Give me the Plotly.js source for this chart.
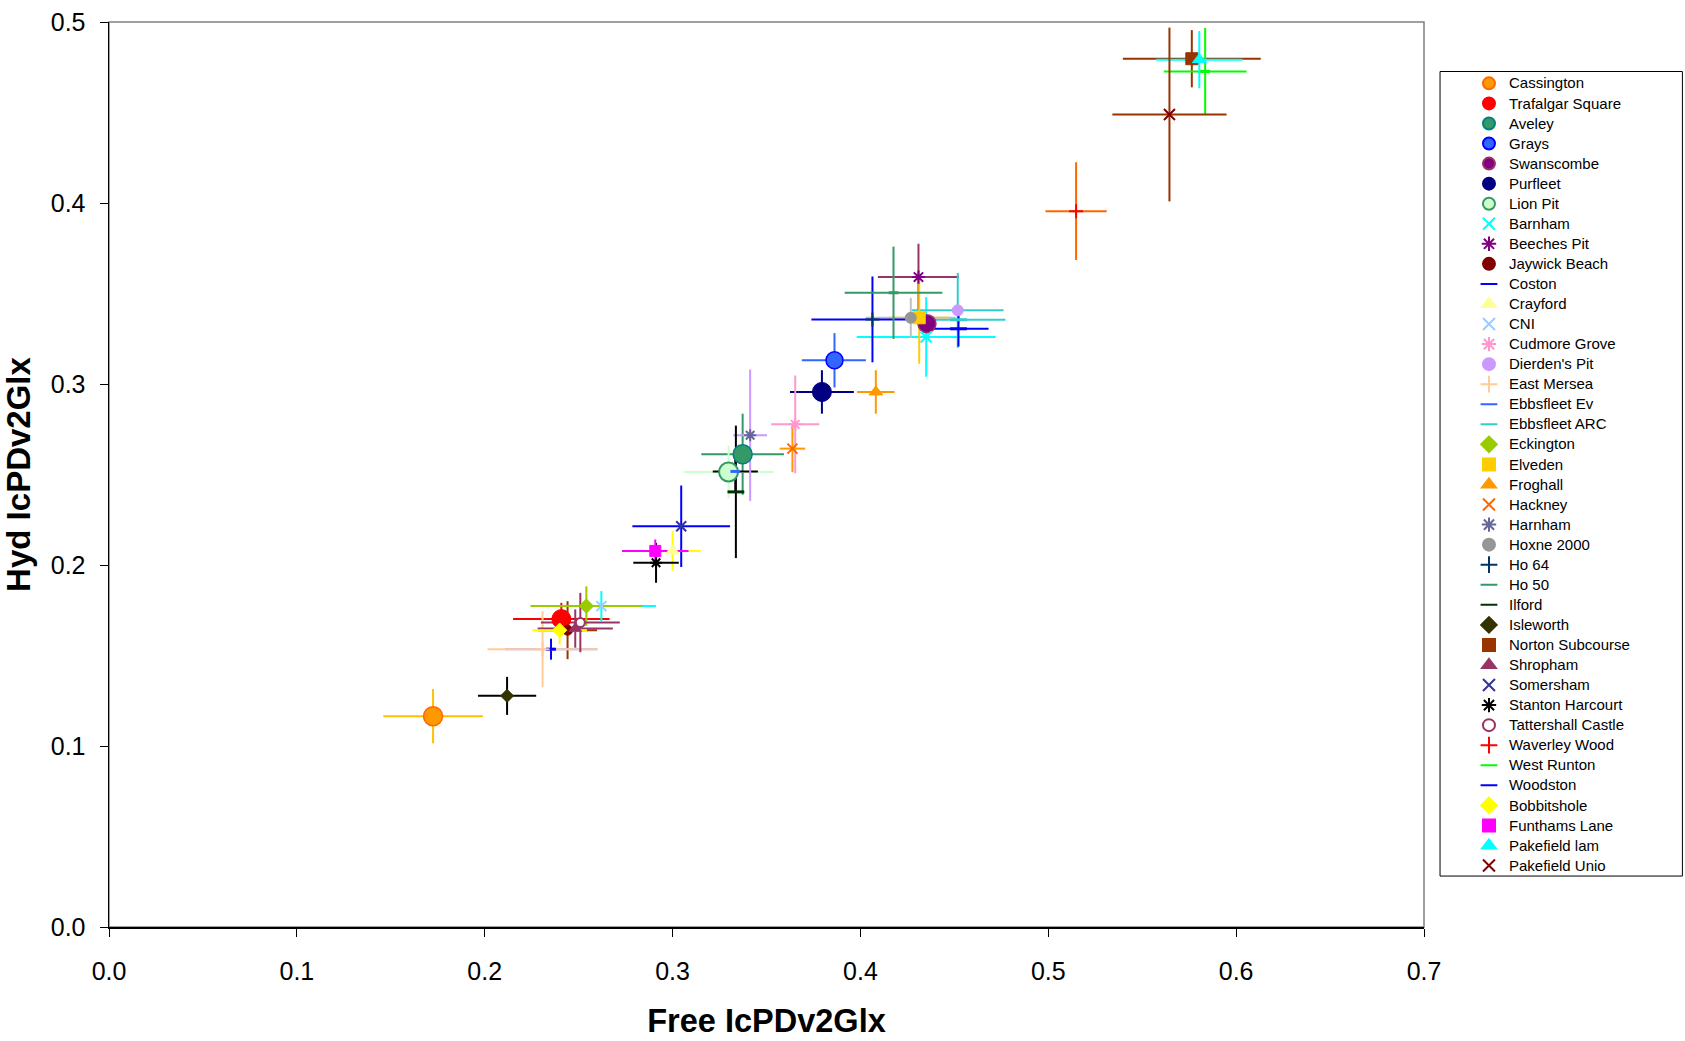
<!DOCTYPE html>
<html>
<head>
<meta charset="utf-8">
<script src="https://cdn.plot.ly/plotly-3.0.1.min.js"></script>
<style>
  html, body { margin: 0; padding: 0; background: #ffffff; }
  #chart { width: 1685px; height: 1041px; }
</style>
</head>
<body>
<div id="chart"></div>
<script>
// ---- data ----
const siteNames = ["Cassington","Trafalgar Square","Aveley","Grays","Swanscombe","Purfleet","Lion Pit","Barnham","Beeches Pit","Jaywick Beach","Coston","Crayford","CNI","Cudmore Grove","Dierden's Pit","East Mersea","Ebbsfleet Ev","Ebbsfleet ARC","Eckington","Elveden","Froghall","Hackney","Harnham","Hoxne 2000","Ho 64","Ho 50","Ilford","Isleworth","Norton Subcourse","Shropham","Somersham","Stanton Harcourt","Tattershall Castle","Waverley Wood","West Runton","Woodston","Bobbitshole","Funthams Lane","Pakefield lam","Pakefield Unio"];

const freeVals = [0.1725,0.2408,0.3373,0.3862,0.4354,0.3795,0.3298,0.4350,0.4309,0.2441,0.2353,0.3000,0.2621,0.3653,0.4518,0.2308,0.3334,0.4522,0.2541,0.4313,0.4082,0.3638,0.3413,0.4268,0.4064,0.4176,0.3337,0.2119,0.5764,0.2482,0.3046,0.2912,0.2509,0.5148,0.5835,0.4522,0.2399,0.2908,0.5804,0.5645];
const hydVals  = [0.1165,0.1701,0.2612,0.3131,0.3333,0.2956,0.2514,0.3260,0.3591,0.1640,0.1535,0.2078,0.1773,0.2777,0.3407,0.1535,0.2517,0.3355,0.1773,0.3366,0.2956,0.2643,0.2717,0.3366,0.3357,0.3504,0.2404,0.1277,0.4797,0.1649,0.2214,0.2012,0.1682,0.3955,0.4727,0.3305,0.1640,0.2078,0.4792,0.4489];

const freeErrPlus  = [0.0265,0.0257,0.0220,0.0167,0.0040,0.0170,0.0240,0.0370,0.0216,0.0157,0.0246,0.0150,0.0290,0.0128,0.0244,0.0293,0.0120,0.0250,0.0297,0.0165,0.0100,0.0068,0.0090,0.0240,0.0180,0.0260,0.0000,0.0155,0.0367,0.0200,0.0260,0.0121,0.0210,0.0163,0.0220,0.0160,0.0145,0.0177,0.0230,0.0304];
const freeErrMinus = [0.0265,0.0257,0.0220,0.0174,0.0040,0.0170,0.0240,0.0370,0.0216,0.0157,0.0246,0.0150,0.0290,0.0128,0.0244,0.0293,0.0120,0.0250,0.0297,0.0165,0.0100,0.0068,0.0090,0.0240,0.0325,0.0260,0.0000,0.0155,0.0367,0.0200,0.0260,0.0121,0.0210,0.0163,0.0220,0.0160,0.0145,0.0177,0.0230,0.0304];
const hydErrPlus   = [0.0150,0.0090,0.0224,0.0150,0.0040,0.0120,0.0145,0.0220,0.0184,0.0160,0.0058,0.0109,0.0083,0.0270,0.0207,0.0210,0.0110,0.0020,0.0109,0.0206,0.0120,0.0130,0.0363,0.0110,0.0237,0.0255,0.0366,0.0105,0.0158,0.0106,0.0225,0.0110,0.0164,0.0270,0.0240,0.0098,0.0078,0.0063,0.0158,0.0480];
const hydErrMinus  = [0.0150,0.0090,0.0224,0.0150,0.0040,0.0120,0.0145,0.0220,0.0184,0.0160,0.0058,0.0109,0.0083,0.0270,0.0207,0.0210,0.0110,0.0020,0.0109,0.0254,0.0120,0.0130,0.0363,0.0110,0.0237,0.0255,0.0366,0.0105,0.0158,0.0106,0.0225,0.0110,0.0164,0.0270,0.0240,0.0098,0.0078,0.0063,0.0158,0.0480];

const xTickVals = [0,0.1,0.2,0.3,0.4,0.5,0.6,0.7];
const xTickText = ["0.0","0.1","0.2","0.3","0.4","0.5","0.6","0.7"];
const yTickVals = [0,0.1,0.2,0.3,0.4,0.5];
const yTickText = ["0.0","0.1","0.2","0.3","0.4","0.5"];

// ---- styles (marker symbol, size, fill, outline, error-bar colours) ----
const styles = {
  "Cassington":        {s:"circle", z:19, c:"#FF9900", l:"#FF6600", lw:1.5, e:"#FFC000"},
  "Trafalgar Square":  {s:"circle", z:19, c:"#FF0000", l:"#FF0000", lw:1, e:"#FF0000"},
  "Aveley":            {s:"circle", z:19, c:"#339966", l:"#008080", lw:1.5, e:"#339966"},
  "Grays":             {s:"circle", z:17, c:"#3366FF", l:"#0000FF", lw:1.5, e:"#3366FF"},
  "Swanscombe":        {s:"circle", z:18, c:"#800080", l:"#993366", lw:1.5, e:"#993366"},
  "Purfleet":          {s:"circle", z:19, c:"#000080", l:"#000080", lw:1, e:"#000080"},
  "Lion Pit":          {s:"circle", z:19, c:"#CCFFCC", l:"#339966", lw:2, e:"#CCFFCC"},
  "Barnham":           {s:"x-thin-open", z:11, c:"#00FFFF", lw:2, e:"#00FFFF"},
  "Beeches Pit":       {s:"asterisk-open", z:11, c:"#800080", lw:2, e:"#993366"},
  "Jaywick Beach":     {s:"circle", z:10, c:"#800000", l:"#800000", lw:1, e:"#993300"},
  "Coston":            {s:"line-ew-open", z:7, c:"#0000FF", lw:3, e:"#0000FF", ex:"#9999FF"},
  "Crayford":          {s:"triangle-up", z:12, c:"#FFFF99", l:"#FFFF99", lw:1, e:"#FFFF00"},
  "CNI":               {s:"x-thin-open", z:10, c:"#99CCFF", lw:2, e:"#00FFFF"},
  "Cudmore Grove":     {s:"asterisk-open", z:10, c:"#FF99CC", lw:2, e:"#FF99CC"},
  "Dierden's Pit":     {s:"circle", z:11, c:"#CC99FF", l:"#CC99FF", lw:1, e:"#33CCCC"},
  "East Mersea":       {s:"cross-thin-open", z:10, c:"#FFCC99", lw:2, e:"#FFCC99"},
  "Ebbsfleet Ev":      {s:"line-ew-open", z:7, c:"#3366FF", lw:3, e:"#000000"},
  "Ebbsfleet ARC":     {s:"line-ew-open", z:12, c:"#33CCCC", lw:3, e:"#33CCCC"},
  "Eckington":         {s:"diamond", z:11, c:"#99CC00", l:"#99CC00", lw:1, e:"#99CC00"},
  "Elveden":           {s:"square", z:12, c:"#FFCC00", l:"#FFCC00", lw:1, e:"#FFCC00"},
  "Froghall":          {s:"triangle-up", z:12, c:"#FF9900", l:"#FF9900", lw:1, e:"#FF9900"},
  "Hackney":           {s:"x-thin-open", z:10, c:"#FF6600", lw:2, e:"#FF9900"},
  "Harnham":           {s:"asterisk-open", z:10, c:"#666699", lw:2, e:"#CC99FF"},
  "Hoxne 2000":        {s:"circle", z:11, c:"#969696", l:"#969696", lw:1, e:"#C0C0C0"},
  "Ho 64":             {s:"cross-thin-open", z:10, c:"#003366", lw:2, e:"#0000FF"},
  "Ho 50":             {s:"line-ew-open", z:7, c:"#339966", lw:3, e:"#339966"},
  "Ilford":            {s:"line-ew-open", z:12, c:"#003300", lw:3, e:"#000000"},
  "Isleworth":         {s:"diamond", z:10, c:"#333300", l:"#333300", lw:1, e:"#000000"},
  "Norton Subcourse":  {s:"square", z:12, c:"#993300", l:"#993300", lw:1, e:"#993300"},
  "Shropham":          {s:"triangle-up", z:11, c:"#993366", l:"#993366", lw:1, e:"#993366"},
  "Somersham":         {s:"x-thin-open", z:10, c:"#333399", lw:2, e:"#0000FF"},
  "Stanton Harcourt":  {s:"asterisk-open", z:10, c:"#000000", lw:2, e:"#000000"},
  "Tattershall Castle":{s:"circle", z:9, c:"#FFFFFF", l:"#993366", lw:2, e:"#993366"},
  "Waverley Wood":     {s:"cross-thin-open", z:10, c:"#FF0000", lw:2, e:"#FF6600"},
  "West Runton":       {s:"line-ew-open", z:7, c:"#00FF00", lw:3, e:"#00FF00"},
  "Woodston":          {s:"line-ew-open", z:12, c:"#0000FF", lw:3, e:"#0000FF"},
  "Bobbitshole":       {s:"diamond", z:11, c:"#FFFF00", l:"#FFFF00", lw:1, e:"#FFFF00"},
  "Funthams Lane":     {s:"square", z:11, c:"#FF00FF", l:"#FF00FF", lw:1, e:"#FF00FF"},
  "Pakefield lam":     {s:"triangle-up", z:12, c:"#00FFFF", l:"#00FFFF", lw:1, e:"#00FFFF"},
  "Pakefield Unio":    {s:"x-thin-open", z:11, c:"#800000", lw:2, e:"#993300"}
};

const LEGEND_TEXT_SIZE = 15;

// layer 1: error bars for every site (drawn first, beneath all markers)
const errorTraces = siteNames.map((name, i) => {
  const st = styles[name];
  return {
    type: "scatter",
    mode: "markers",
    name: name + " error",
    showlegend: false,
    hoverinfo: "skip",
    x: [freeVals[i]],
    y: [hydVals[i]],
    marker: {size: 1, color: "rgba(0,0,0,0)", line: {width: 0}},
    error_x: {type: "data", symmetric: false, array: [freeErrPlus[i]], arrayminus: [freeErrMinus[i]],
              color: st.ex || st.e, thickness: 2, width: 0, visible: true},
    error_y: {type: "data", symmetric: false, array: [hydErrPlus[i]], arrayminus: [hydErrMinus[i]],
              color: st.e, thickness: 2, width: 0, visible: true},
    cliponaxis: false
  };
});

// layer 2: the markers, with legend entries
const markerTraces = siteNames.map((name, i) => {
  const st = styles[name];
  const open = st.s.indexOf("-open") >= 0;
  return {
    type: "scatter",
    mode: "markers",
    name: '<span style="font-size:' + LEGEND_TEXT_SIZE + 'px">' + name + '</span>',
    x: [freeVals[i]],
    y: [hydVals[i]],
    marker: {
      symbol: st.s,
      size: st.z,
      color: st.c,
      line: {color: open ? st.c : st.l, width: st.lw}
    },
    cliponaxis: false
  };
});

const FONT = "Liberation Sans, Arial, sans-serif";

const layout = {
  width: 1685,
  height: 1041,
  paper_bgcolor: "#ffffff",
  plot_bgcolor: "#ffffff",
  margin: {l: 108.5, r: 261, t: 21.5, b: 114, pad: 0},
  showlegend: true,
  font: {family: FONT, color: "#000000"},
  xaxis: {
    range: [0, 0.7],
    tickvals: xTickVals,
    ticktext: xTickText,
    ticks: "outside",
    ticklen: 8,
    tickwidth: 1,
    tickcolor: "#000000",
    ticklabelstandoff: 13,
    showline: true,
    linecolor: "#000000",
    linewidth: 1.5,
    showgrid: false,
    zeroline: false,
    tickfont: {family: FONT, size: 25, color: "#000000"},
    title: {text: "Free IcPDv2Glx", font: {family: FONT, size: 32.5, color: "#000000", weight: "bold"}, standoff: 25}
  },
  yaxis: {
    range: [0, 0.5],
    tickvals: yTickVals,
    ticktext: yTickText,
    ticks: "outside",
    ticklen: 8,
    tickwidth: 1,
    tickcolor: "#000000",
    ticklabelstandoff: 9,
    showline: true,
    linecolor: "#000000",
    linewidth: 1.5,
    showgrid: false,
    zeroline: false,
    tickfont: {family: FONT, size: 25, color: "#000000"},
    title: {text: "Hyd IcPDv2Glx", font: {family: FONT, size: 33, color: "#000000", weight: "bold"}, standoff: 16}
  },
  legend: {
    x: 1.0342,
    xanchor: "left",
    y: 0.9488,
    yanchor: "top",
    bgcolor: "rgba(0,0,0,0)",
    borderwidth: 0,
    itemsizing: "constant",
    font: {family: FONT, size: 13.12, color: "#000000"},
    tracegroupgap: 0
  },
  shapes: [
    {type: "rect", xref: "paper", yref: "paper", x0: 0, x1: 1, y0: 0, y1: 1,
     line: {color: "#808080", width: 1.5}, fillcolor: "rgba(0,0,0,0)", layer: "below"},
    {type: "rect", xref: "paper", yref: "paper", x0: 1.0122, x1: 1.1965, y0: 0.0563, y1: 0.9453,
     line: {color: "#000000", width: 1}, fillcolor: "rgba(0,0,0,0)"}
  ]
};

Plotly.newPlot("chart", errorTraces.concat(markerTraces), layout, {displayModeBar: false, staticPlot: true});
</script>
</body>
</html>
